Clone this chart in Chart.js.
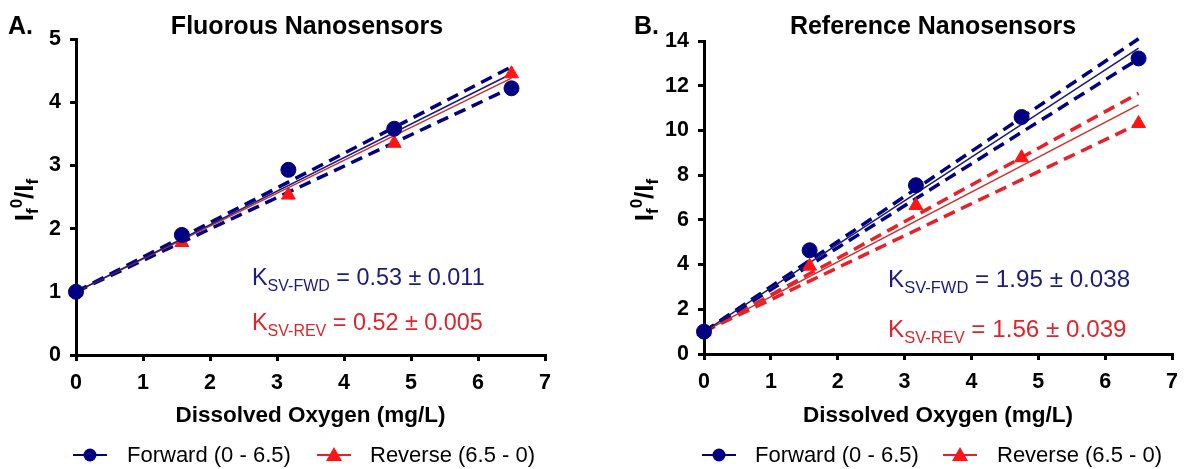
<!DOCTYPE html>
<html>
<head>
<meta charset="utf-8">
<script src="https://cdn.jsdelivr.net/npm/chart.js@4.4.1/dist/chart.umd.min.js"></script>
<style>
  html, body { margin: 0; padding: 0; background: #ffffff; }
  #wrap { position: relative; width: 1188px; height: 469px; background: #fff; }
  canvas { position: absolute; top: 0; }
</style>
</head>
<body>
<div id="wrap">
  <canvas id="cA" width="594" height="469" style="left:0px"></canvas>
  <canvas id="cB" width="594" height="469" style="left:594px"></canvas>
</div>
<script>
// ---------- data ----------
const xTicks = [0, 1, 2, 3, 4, 5, 6, 7];
const doX = [0, 1.58, 3.17, 4.75, 6.5];

// Panel A : Fluorous nanosensors
const fwdA = [1.0, 1.9, 2.93, 3.58, 4.22];
const revA = [1.0, 1.78, 2.53, 3.35, 4.45];
const fitX = [0, 6.5];
const fwdFitA = [1.0, 4.45];
const revFitA = [1.0, 4.38];
const fwdUpA = [1.0, 4.56];
const fwdLoA = [1.0, 4.23];

// Panel B : Reference nanosensors
const fwdB = [1.0, 4.64, 7.55, 10.6, 13.22];
const revB = [1.0, 3.93, 6.64, 8.78, 10.31];
const fwdFitB = [1.0, 13.68];
const revFitB = [1.0, 11.14];
const fwdUpB = [1.0, 14.1];
const fwdLoB = [1.0, 13.2];
const revUpB = [1.0, 11.66];
const revLoB = [1.0, 10.3];

const seriesLabels = ['Forward (0 - 6.5)', 'Reverse (6.5 - 0)'];
const titles = ['Fluorous Nanosensors', 'Reference Nanosensors'];
const panelLetters = ['A.', 'B.'];
const kTextA = [['SV-FWD', ' = 0.53 \u00b1 0.011'], ['SV-REV', ' = 0.52 \u00b1 0.005']];
const kTextB = [['SV-FWD', ' = 1.95 \u00b1 0.038'], ['SV-REV', ' = 1.56 \u00b1 0.039']];

// ---------- styles ----------
const FONT = '"Liberation Sans", Arial, Helvetica, sans-serif';
const NAVY = '#000080';
const NAVY_TEXT = '#1c1c7c';
const RED_MK = '#ff1414';
const RED_DASH = '#ea1f27';
const RED_SOLID = '#c8322e';
const RED_TEXT = '#d9272d';

const pts = (xs, ys) => xs.map((x, i) => ({ x: x, y: ys[i] }));

function drawRich(ctx, parts, x, y, align, weight) {
  let total = 0;
  parts.forEach(p => {
    ctx.font = (weight || 'normal') + ' ' + p.size + 'px ' + FONT;
    p.w = ctx.measureText(p.t).width;
    total += p.w;
  });
  let cx = align === 'center' ? x - total / 2 : x;
  ctx.textAlign = 'left';
  ctx.textBaseline = 'alphabetic';
  parts.forEach(p => {
    ctx.font = (weight || 'normal') + ' ' + p.size + 'px ' + FONT;
    ctx.fillText(p.t, cx, y + (p.dy || 0));
    cx += p.w;
  });
}

const decorPlugin = {
  id: 'decor',
  afterDraw(chart, args, o) {
    const ctx = chart.ctx;
    ctx.save();
    ctx.fillStyle = '#000';
    ctx.font = 'bold 25px ' + FONT;
    ctx.textAlign = 'left';
    ctx.textBaseline = 'alphabetic';
    ctx.fillText(o.letter, o.letterX, 34);
    ctx.textAlign = 'center';
    ctx.fillText(o.title, o.titleX, 34);

    ctx.save();
    ctx.translate(o.yTitleX, o.yTitleY);
    ctx.rotate(-Math.PI / 2);
    ctx.fillStyle = '#000';
    drawRich(ctx, [
      { t: 'I', size: 26 },
      { t: 'f', size: 17, dy: 5 },
      { t: '0', size: 17, dy: -11 },
      { t: '/I', size: 26 },
      { t: 'f', size: 17, dy: 5 }
    ], 0, 0, 'center', 'bold');
    ctx.restore();

    ctx.fillStyle = '#000';
    ctx.font = 'bold 22.5px ' + FONT;
    ctx.textAlign = 'center';
    ctx.textBaseline = 'middle';
    const ca = chart.chartArea;
    ctx.fillText('Dissolved Oxygen (mg/L)', (ca.left + ca.right) / 2, 416);

    ctx.fillStyle = NAVY_TEXT;
    drawRich(ctx, [
      { t: 'K', size: o.kSize },
      { t: o.k[0][0], size: o.kSub, dy: 6 },
      { t: o.k[0][1], size: o.kSize }
    ], o.kX, o.kY1, 'left');
    ctx.fillStyle = RED_TEXT;
    drawRich(ctx, [
      { t: 'K', size: o.kSize },
      { t: o.k[1][0], size: o.kSub, dy: 6 },
      { t: o.k[1][1], size: o.kSize }
    ], o.kX, o.kY2, 'left');

    const ly = 455;
    const ds = chart.data.datasets;
    ctx.strokeStyle = NAVY; ctx.lineWidth = 2;
    ctx.beginPath(); ctx.moveTo(o.leg[0], ly); ctx.lineTo(o.leg[0] + 34, ly); ctx.stroke();
    ctx.fillStyle = NAVY;
    ctx.beginPath(); ctx.arc(o.leg[0] + 17, ly, 6.5, 0, Math.PI * 2); ctx.fill();
    ctx.fillStyle = '#000';
    ctx.font = '22px ' + FONT; ctx.textAlign = 'left'; ctx.textBaseline = 'middle';
    ctx.fillText(ds[0].label, o.leg[1], ly + 1);
    ctx.strokeStyle = RED_DASH; ctx.lineWidth = 2;
    ctx.beginPath(); ctx.moveTo(o.leg[2], ly); ctx.lineTo(o.leg[2] + 34, ly); ctx.stroke();
    ctx.fillStyle = RED_MK;
    const tx = o.leg[2] + 17;
    ctx.beginPath(); ctx.moveTo(tx, ly - 8); ctx.lineTo(tx + 8, ly + 6); ctx.lineTo(tx - 8, ly + 6); ctx.closePath(); ctx.fill();
    ctx.fillStyle = '#000';
    ctx.fillText(ds[1].label, o.leg[3], ly + 1);
    ctx.restore();
  }
};

function axisCfg(min, max, step, fitFn) {
  return {
    type: 'linear', min: min, max: max,
    ticks: { stepSize: step, color: '#000', font: { family: FONT, size: 21.5, weight: 'bold' }, padding: 9 },
    grid: { drawOnChartArea: false, drawTicks: true, tickLength: 6, lineWidth: 3, color: '#000' },
    border: { display: true, width: 3, color: '#000' },
    afterFit: fitFn
  };
}

function lineDs(label, data, color, width, dash) {
  return {
    type: 'line', label: label, data: data, borderColor: color, borderWidth: width,
    borderDash: dash || [], pointRadius: 0, showLine: true, fill: false, tension: 0,
    clip: 10
  };
}

function makeChart(id, cfg) {
  const datasets = [
    { label: seriesLabels[0], data: pts(doX, cfg.fwd), backgroundColor: NAVY, borderColor: NAVY,
      pointStyle: 'circle', pointRadius: 7.5, showLine: false, clip: 12 },
    { label: seriesLabels[1], data: pts(doX, cfg.rev), backgroundColor: RED_MK, borderColor: RED_MK,
      pointStyle: 'triangle', pointRadius: 8, showLine: false, clip: 12 }
  ].concat(cfg.lines);
  return new Chart(document.getElementById(id), {
    type: 'scatter',
    data: { datasets: datasets },
    options: {
      responsive: false, animation: false, devicePixelRatio: 1,
      layout: { padding: cfg.padding },
      scales: {
        x: axisCfg(0, 7, 1, s => { s.height = cfg.xH; }),
        y: axisCfg(0, cfg.yMax, cfg.yStep, s => { s.width = cfg.yW; })
      },
      plugins: {
        legend: { display: false },
        tooltip: { enabled: false },
        title: { display: false },
        decor: cfg.decor
      }
    },
    plugins: [decorPlugin]
  });
}

makeChart('cA', {
  fwd: fwdA, rev: revA, yMax: 5, yStep: 1, yW: 76, xH: 114,
  padding: { left: 0, right: 49, top: 39, bottom: 0 },
  lines: [
    lineDs('Forward fit', pts(fitX, fwdFitA), '#1a1a70', 1.5),
    lineDs('Reverse fit', pts(fitX, revFitA), RED_SOLID, 1.5),
    lineDs('Forward 95% CI upper', pts(fitX, fwdUpA), NAVY, 3.5, [12, 7]),
    lineDs('Forward 95% CI lower', pts(fitX, fwdLoA), NAVY, 3.5, [12, 7])
  ],
  decor: {
    letter: panelLetters[0], letterX: 8, title: titles[0], titleX: 307,
    yTitleX: 33, yTitleY: 200,
    k: kTextA, kX: 252, kY1: 285, kY2: 330, kSize: 23.4, kSub: 16,
    leg: [73, 127, 317, 370]
  }
});

makeChart('cB', {
  fwd: fwdB, rev: revB, yMax: 14, yStep: 2, yW: 110, xH: 115,
  padding: { left: 0, right: 16, top: 41, bottom: 0 },
  lines: [
    lineDs('Forward fit', pts(fitX, fwdFitB), '#1a1a70', 1.5),
    lineDs('Reverse fit', pts(fitX, revFitB), RED_SOLID, 1.5),
    lineDs('Forward 95% CI upper', pts(fitX, fwdUpB), NAVY, 3.5, [12, 7]),
    lineDs('Forward 95% CI lower', pts(fitX, fwdLoB), NAVY, 3.5, [12, 7]),
    lineDs('Reverse 95% CI upper', pts(fitX, revUpB), RED_DASH, 3.5, [12, 7]),
    lineDs('Reverse 95% CI lower', pts(fitX, revLoB), RED_DASH, 3.5, [12, 7])
  ],
  decor: {
    letter: panelLetters[1], letterX: 40, title: titles[1], titleX: 339,
    yTitleX: 59, yTitleY: 200,
    k: kTextB, kX: 294, kY1: 287, kY2: 337, kSize: 24.2, kSub: 16.5,
    leg: [108, 161, 349, 403]
  }
});
</script>
</body>
</html>
